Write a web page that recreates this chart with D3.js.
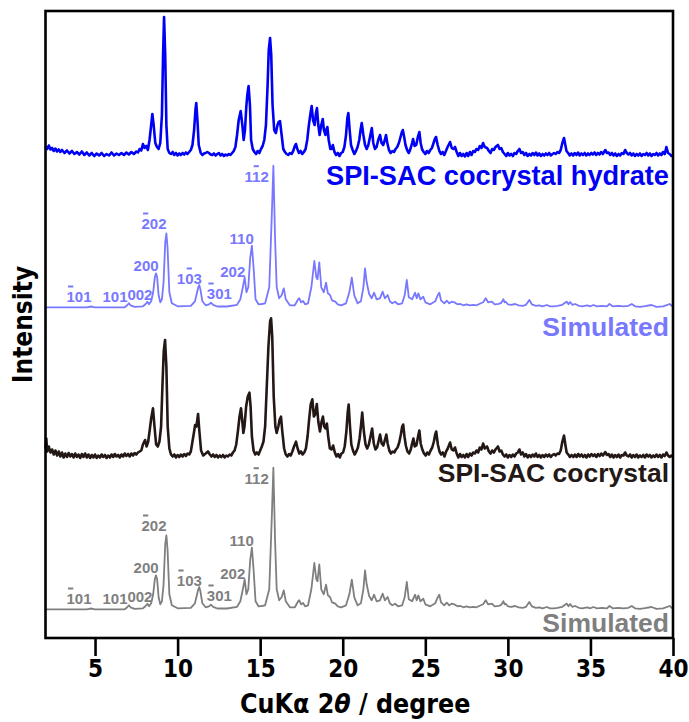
<!DOCTYPE html>
<html>
<head>
<meta charset="utf-8">
<script src="https://cdn.jsdelivr.net/npm/d3@7/dist/d3.min.js"></script>
<style>
  html, body { margin: 0; padding: 0; background: #fff; }
  svg { display: block; }
  .narrow { font-family: 'DejaVu Sans Condensed', 'Liberation Sans Narrow', sans-serif; font-weight: bold; }
  .bold { font-family: 'Liberation Sans', Arial, sans-serif; font-weight: bold; }
</style>
</head>
<body>
<svg id="chart" width="689" height="722"></svg>
<script>
// ---------------- data ----------------
const seriesNames = ["SPI-SAC cocrystal hydrate", "Simulated", "SPI-SAC cocrystal", "Simulated"];
const xTicks = [5, 10, 15, 20, 25, 30, 35, 40];
const xTickLabels = ["5", "10", "15", "20", "25", "30", "35", "40"];
const xRange = [2, 40];
// vertical offsets of each pattern (a.u.)
const offsets = [4830, 3307, 1815, 287];

// experimental pattern, SPI-SAC cocrystal hydrate  [2theta, intensity]
const hydrateExp = [
[2.0,80],[2.1,60],[2.2,95],[2.3,55],[2.4,70],[2.5,40],[2.6,65],[2.7,35],[2.8,55],[2.9,30],[3.0,50],[3.15,20],[3.3,45],[3.45,15],[3.6,40],[3.75,10],[3.9,30],[4.05,5],[4.2,35],[4.35,0],[4.5,25],[4.65,-5],[4.8,20],[4.95,-10],[5.1,15],[5.25,-5],[5.4,20],[5.55,-10],[5.7,10],[5.85,-5],[6.0,25],[6.15,-5],[6.3,15],[6.45,0],[6.6,20],[6.75,0],[6.9,25],[7.05,5],[7.2,30],[7.35,10],[7.5,35],[7.6,25],[7.7,60],[7.8,45],[7.9,110],[8.0,70],[8.1,90],[8.2,50],[8.3,150],[8.4,300],[8.47,410],[8.55,300],[8.65,120],[8.75,80],[8.85,60],[8.95,120],[9.05,400],[9.12,1000],[9.18,1380],[9.25,1000],[9.32,300],[9.4,60],[9.5,20],[9.6,10],[9.7,30],[9.8,0],[9.9,20],[10.0,-5],[10.1,15],[10.2,0],[10.3,20],[10.4,5],[10.5,25],[10.6,10],[10.7,30],[10.8,50],[10.9,100],[11.0,250],[11.08,450],[11.13,520],[11.2,350],[11.28,100],[11.4,20],[11.5,0],[11.6,15],[11.7,20],[11.8,30],[11.9,20],[12.0,5],[12.1,0],[12.2,15],[12.3,-5],[12.4,10],[12.5,20],[12.6,-5],[12.7,10],[12.8,-10],[12.9,5],[13.0,-5],[13.1,10],[13.2,0],[13.3,20],[13.4,40],[13.5,80],[13.6,200],[13.7,350],[13.82,440],[13.92,300],[14.0,150],[14.08,250],[14.16,480],[14.22,600],[14.3,690],[14.38,500],[14.45,150],[14.55,60],[14.65,30],[14.75,10],[14.85,40],[14.95,20],[15.05,60],[15.15,90],[15.25,150],[15.35,300],[15.45,700],[15.52,1050],[15.6,1170],[15.67,1000],[15.75,500],[15.85,250],[15.95,220],[16.05,300],[16.12,330],[16.2,340],[16.3,200],[16.4,60],[16.5,30],[16.6,10],[16.7,0],[16.8,20],[16.9,10],[17.0,40],[17.1,90],[17.17,110],[17.25,60],[17.35,20],[17.45,40],[17.55,10],[17.65,30],[17.75,60],[17.85,150],[17.95,300],[18.05,420],[18.12,490],[18.2,350],[18.3,300],[18.38,420],[18.44,470],[18.52,300],[18.6,200],[18.7,300],[18.79,360],[18.86,250],[18.95,200],[19.0,250],[19.07,280],[19.15,150],[19.25,60],[19.33,60],[19.4,100],[19.5,30],[19.6,0],[19.7,20],[19.8,-10],[19.9,20],[20.0,30],[20.1,80],[20.2,200],[20.28,370],[20.34,420],[20.42,250],[20.5,100],[20.6,50],[20.7,10],[20.8,40],[20.9,80],[21.0,150],[21.08,250],[21.15,320],[21.25,200],[21.35,100],[21.45,60],[21.55,100],[21.65,180],[21.76,270],[21.85,120],[21.95,60],[22.05,80],[22.15,150],[22.26,200],[22.35,120],[22.45,100],[22.55,150],[22.62,200],[22.7,120],[22.8,50],[22.9,20],[23.0,40],[23.1,30],[23.2,60],[23.3,80],[23.4,120],[23.5,180],[23.58,230],[23.64,250],[23.72,180],[23.8,100],[23.9,50],[24.0,20],[24.1,60],[24.2,120],[24.26,160],[24.35,90],[24.45,100],[24.55,180],[24.64,230],[24.72,120],[24.8,60],[24.9,30],[25.0,10],[25.1,40],[25.2,20],[25.3,50],[25.4,70],[25.5,120],[25.58,160],[25.65,180],[25.75,100],[25.85,40],[25.95,10],[26.05,30],[26.15,0],[26.25,40],[26.35,80],[26.5,130],[26.6,70],[26.7,60],[26.8,80],[26.9,30],[27.0,-10],[27.1,20],[27.2,-10],[27.3,10],[27.4,-15],[27.5,20],[27.6,-10],[27.7,30],[27.8,0],[27.9,40],[28.0,30],[28.1,60],[28.2,50],[28.3,90],[28.4,70],[28.5,120],[28.6,80],[28.74,70],[28.85,40],[28.95,20],[29.05,60],[29.15,50],[29.25,80],[29.4,100],[29.5,60],[29.6,70],[29.7,30],[29.8,10],[29.9,-10],[30.0,20],[30.1,-5],[30.2,10],[30.3,-10],[30.4,20],[30.5,10],[30.6,40],[30.7,60],[30.8,20],[30.9,30],[31.0,0],[31.1,20],[31.2,-10],[31.3,10],[31.4,-5],[31.5,20],[31.6,0],[31.7,25],[31.8,-5],[31.9,15],[32.0,-10],[32.1,10],[32.2,-5],[32.3,15],[32.4,0],[32.5,20],[32.6,-5],[32.7,10],[32.8,20],[32.9,10],[33.0,30],[33.1,20],[33.2,50],[33.3,120],[33.4,170],[33.48,100],[33.55,40],[33.65,20],[33.75,-5],[33.85,15],[33.95,-5],[34.05,20],[34.15,0],[34.25,25],[34.35,-5],[34.45,15],[34.55,0],[34.65,20],[34.75,-5],[34.85,15],[34.95,0],[35.05,20],[35.15,5],[35.25,25],[35.35,0],[35.45,20],[35.55,5],[35.65,30],[35.75,10],[35.9,50],[36.0,20],[36.1,25],[36.2,0],[36.3,20],[36.4,-5],[36.5,15],[36.6,-10],[36.7,10],[36.8,-5],[36.9,20],[37.0,10],[37.1,50],[37.2,20],[37.3,5],[37.4,20],[37.5,-5],[37.6,15],[37.7,-10],[37.8,10],[37.9,-5],[38.0,15],[38.1,-10],[38.2,10],[38.3,0],[38.4,20],[38.5,-5],[38.6,15],[38.7,-10],[38.8,10],[38.9,0],[39.0,20],[39.1,-5],[39.2,15],[39.3,0],[39.4,30],[39.5,10],[39.6,80],[39.7,20],[39.8,10],[39.9,-10],[40.0,0]
];

// simulated pattern (same for both simulated traces)  [2theta, intensity]
const simulated = [
[2.0,0],[4.5,0],[4.65,5],[4.75,8],[4.85,5],[5.0,0],[6.8,0],[6.95,20],[7.05,40],[7.15,20],[7.4,5],[7.9,10],[8.05,30],[8.17,55],[8.27,30],[8.4,60],[8.52,150],[8.62,300],[8.69,340],[8.76,300],[8.85,120],[8.95,50],[9.05,80],[9.15,250],[9.25,650],[9.32,740],[9.39,600],[9.5,150],[9.65,40],[10.0,10],[10.8,15],[11.05,60],[11.18,150],[11.25,200],[11.31,223],[11.38,180],[11.5,60],[11.7,20],[11.9,30],[12.02,46],[12.15,25],[12.4,8],[13.0,8],[13.6,25],[13.8,80],[13.95,200],[14.06,300],[14.17,150],[14.28,200],[14.4,500],[14.5,616],[14.6,400],[14.72,80],[14.9,30],[15.1,33],[15.3,40],[15.55,200],[15.7,900],[15.8,1416],[15.9,700],[16.0,200],[16.04,173],[16.15,90],[16.3,120],[16.43,190],[16.55,80],[16.8,20],[17.1,20],[17.3,80],[17.37,90],[17.48,50],[17.6,63],[17.72,30],[17.9,40],[18.1,200],[18.28,463],[18.4,300],[18.47,280],[18.58,450],[18.7,200],[18.85,150],[18.99,246],[19.1,140],[19.23,123],[19.35,70],[19.55,56],[19.7,30],[19.9,20],[20.2,40],[20.4,150],[20.55,296],[20.7,120],[20.9,40],[21.1,60],[21.25,200],[21.35,390],[21.45,250],[21.6,133],[21.75,90],[21.9,146],[22.05,80],[22.25,90],[22.42,156],[22.55,90],[22.72,123],[22.85,60],[23.0,40],[23.17,56],[23.35,30],[23.6,40],[23.75,120],[23.88,273],[24.0,100],[24.2,80],[24.38,146],[24.48,90],[24.58,140],[24.7,80],[24.88,106],[25.0,50],[25.3,30],[25.6,60],[25.75,120],[25.85,146],[25.95,70],[26.15,40],[26.3,66],[26.45,40],[26.6,56],[26.8,46],[26.95,30],[27.1,35],[27.3,20],[27.5,30],[27.7,20],[27.9,25],[28.1,20],[28.3,35],[28.5,50],[28.66,90],[28.8,50],[29.03,56],[29.2,30],[29.45,35],[29.6,45],[29.73,80],[29.8,50],[29.87,56],[30.0,30],[30.2,25],[30.44,33],[30.65,20],[30.9,15],[31.1,25],[31.3,73],[31.45,30],[31.7,15],[31.9,20],[32.1,10],[32.36,23],[32.55,10],[32.8,10],[33.0,15],[33.3,25],[33.5,50],[33.57,56],[33.67,30],[33.77,53],[33.9,25],[34.07,33],[34.3,15],[34.5,10],[34.8,20],[35.0,10],[35.18,23],[35.4,10],[35.7,15],[36.0,10],[36.15,33],[36.35,10],[36.7,15],[37.0,10],[37.3,15],[37.5,33],[37.7,10],[38.0,5],[38.3,12],[38.7,23],[39.0,5],[39.4,10],[39.8,33],[40.0,6]
];

// experimental pattern, SPI-SAC cocrystal  [2theta, intensity]
const cocrystalExp = [
[2.0,80],[2.05,180],[2.1,50],[2.2,100],[2.3,40],[2.4,70],[2.5,20],[2.6,60],[2.7,10],[2.8,50],[2.9,0],[3.0,40],[3.1,-10],[3.2,30],[3.3,-5],[3.4,35],[3.5,0],[3.6,25],[3.7,-10],[3.8,30],[3.9,-5],[4.0,20],[4.1,-15],[4.2,25],[4.3,-5],[4.4,30],[4.5,-10],[4.6,20],[4.7,-15],[4.8,15],[4.9,-10],[5.0,20],[5.1,-15],[5.2,10],[5.3,-10],[5.4,20],[5.5,-5],[5.6,15],[5.7,-15],[5.8,10],[5.9,-10],[6.0,20],[6.1,-5],[6.2,25],[6.3,0],[6.4,15],[6.5,-10],[6.6,20],[6.7,0],[6.8,30],[6.9,5],[7.0,25],[7.1,0],[7.2,30],[7.3,10],[7.4,35],[7.5,20],[7.6,40],[7.7,50],[7.8,60],[7.9,120],[8.03,165],[8.12,100],[8.22,150],[8.3,250],[8.4,380],[8.51,482],[8.6,300],[8.7,120],[8.8,100],[8.9,150],[9.0,300],[9.08,700],[9.16,1050],[9.24,1165],[9.32,900],[9.4,300],[9.5,80],[9.6,20],[9.7,0],[9.8,20],[9.9,-10],[10.0,15],[10.1,-5],[10.2,20],[10.3,0],[10.4,25],[10.5,5],[10.6,30],[10.7,20],[10.8,50],[10.9,150],[11.0,250],[11.06,315],[11.14,300],[11.24,425],[11.32,250],[11.42,60],[11.55,10],[11.7,30],[11.84,50],[11.95,20],[12.05,0],[12.15,20],[12.25,-5],[12.35,15],[12.45,-10],[12.55,10],[12.65,-5],[12.75,15],[12.85,-10],[12.95,10],[13.05,0],[13.15,20],[13.25,10],[13.35,40],[13.45,60],[13.55,120],[13.65,250],[13.75,400],[13.84,482],[13.92,350],[13.98,235],[14.05,300],[14.15,500],[14.25,600],[14.35,638],[14.42,500],[14.5,200],[14.6,60],[14.7,20],[14.8,40],[14.9,20],[15.0,60],[15.1,100],[15.2,150],[15.3,300],[15.4,700],[15.5,1100],[15.6,1350],[15.66,1382],[15.73,1200],[15.82,600],[15.92,300],[16.0,235],[16.1,300],[16.18,370],[16.26,398],[16.34,250],[16.45,80],[16.55,20],[16.65,0],[16.75,25],[16.85,10],[16.95,50],[17.05,100],[17.17,148],[17.27,80],[17.37,30],[17.47,50],[17.57,20],[17.67,40],[17.77,80],[17.87,200],[17.97,380],[18.06,520],[18.16,572],[18.25,400],[18.33,420],[18.43,525],[18.52,350],[18.62,250],[18.72,350],[18.8,400],[18.88,300],[18.96,280],[19.04,330],[19.12,200],[19.22,80],[19.32,70],[19.42,110],[19.52,40],[19.62,0],[19.72,25],[19.82,-10],[19.92,30],[20.02,40],[20.12,100],[20.22,250],[20.3,440],[20.36,520],[20.44,300],[20.52,120],[20.62,60],[20.72,20],[20.82,50],[20.92,90],[21.02,180],[21.1,300],[21.18,440],[21.28,250],[21.38,120],[21.48,80],[21.58,120],[21.68,200],[21.78,280],[21.88,130],[21.98,70],[22.08,90],[22.18,160],[22.26,220],[22.36,130],[22.46,110],[22.56,170],[22.64,220],[22.72,130],[22.82,60],[22.92,30],[23.02,50],[23.12,40],[23.22,70],[23.32,90],[23.42,140],[23.52,220],[23.6,300],[23.66,320],[23.74,200],[23.82,110],[23.92,50],[24.02,30],[24.12,70],[24.2,130],[24.28,180],[24.36,100],[24.46,110],[24.56,200],[24.64,260],[24.72,130],[24.82,70],[24.92,30],[25.02,10],[25.12,40],[25.22,20],[25.32,60],[25.42,90],[25.52,150],[25.6,220],[25.66,250],[25.76,120],[25.86,50],[25.96,20],[26.06,40],[26.16,0],[26.26,50],[26.36,80],[26.5,140],[26.6,70],[26.7,60],[26.8,90],[26.9,30],[27.0,-10],[27.1,25],[27.2,-5],[27.3,15],[27.4,-10],[27.5,25],[27.6,-5],[27.7,30],[27.8,10],[27.9,40],[28.0,30],[28.1,60],[28.2,40],[28.3,90],[28.4,70],[28.5,130],[28.6,80],[28.74,100],[28.85,50],[28.95,30],[29.05,60],[29.15,40],[29.25,70],[29.4,100],[29.5,50],[29.6,60],[29.7,20],[29.8,0],[29.9,20],[30.0,-10],[30.1,15],[30.2,-5],[30.3,20],[30.4,0],[30.5,30],[30.6,40],[30.7,70],[30.8,20],[30.9,40],[31.0,0],[31.1,25],[31.2,-10],[31.3,15],[31.4,-5],[31.5,20],[31.6,0],[31.7,30],[31.8,-5],[31.9,15],[32.0,-10],[32.1,15],[32.2,-5],[32.3,20],[32.4,0],[32.5,20],[32.6,-5],[32.7,15],[32.8,25],[32.9,10],[33.0,30],[33.1,25],[33.2,60],[33.3,150],[33.4,210],[33.48,120],[33.56,40],[33.66,20],[33.76,-5],[33.86,15],[33.96,-5],[34.06,20],[34.16,-5],[34.26,25],[34.36,0],[34.46,20],[34.56,-5],[34.66,15],[34.76,-10],[34.86,20],[34.96,0],[35.06,25],[35.16,5],[35.26,20],[35.36,-5],[35.46,25],[35.56,5],[35.66,30],[35.76,10],[35.9,45],[36.0,15],[36.1,25],[36.2,-5],[36.3,20],[36.4,-10],[36.5,15],[36.6,-5],[36.7,20],[36.8,-10],[36.9,15],[37.0,10],[37.1,40],[37.2,10],[37.3,0],[37.4,20],[37.5,-10],[37.6,15],[37.7,-5],[37.8,20],[37.9,-10],[38.0,10],[38.1,-5],[38.2,15],[38.3,-10],[38.4,20],[38.5,0],[38.6,15],[38.7,-10],[38.8,10],[38.9,-5],[39.0,20],[39.1,-5],[39.2,15],[39.3,-10],[39.4,20],[39.5,5],[39.6,40],[39.7,10],[39.8,-5],[39.9,10],[40.0,-5]
];

// Miller index labels: [digits, index of barred digit (-1 none), 2theta, intensity]
const peakLabelsHydrate = [
["101",0,4.03,53],["101",-1,6.21,53],["002",-1,7.72,78],["200",-1,8.09,363],["202",0,8.57,783],
["103",1,10.71,233],["301",0,12.53,83],["202",-1,13.34,306],["110",-1,13.88,630],["112",1,14.79,1256]
];
const peakLabelsCocrystal = [
["101",0,4.03,53],["101",-1,6.21,53],["002",-1,7.72,78],["200",-1,8.09,363],["202",0,8.57,783],
["103",0,10.71,233],["301",0,12.53,83],["202",-1,13.34,306],["110",-1,13.88,630],["112",1,14.79,1256]
];

// ---------------- drawing ----------------
const colors = ["#0000f5", "#7878ff", "#231815", "#7f7f7f"];
const svg = d3.select("#chart");
const W = 689, H = 722;
const m = {left: 45.5, right: 16, top: 11, bottom: 84};
const x = d3.scaleLinear().domain(xRange).range([m.left, W - m.right]);
const y = d3.scaleLinear().domain([0, 6270]).range([H - m.bottom, m.top]);

const traces = [
  {data: hydrateExp, off: offsets[0], color: colors[0], w: 2.6},
  {data: simulated, off: offsets[1], color: colors[1], w: 1.8},
  {data: cocrystalExp, off: offsets[2], color: colors[2], w: 2.6},
  {data: simulated, off: offsets[3], color: colors[3], w: 1.8}
];

traces.forEach(t => {
  const line = d3.line().x(d => x(d[0])).y(d => y(d[1] + t.off));
  svg.append("path").datum(t.data).attr("d", line)
    .attr("fill", "none").attr("stroke", t.color).attr("stroke-width", t.w)
    .attr("stroke-linejoin", "round");
});

// peak labels
function drawLabels(list, off, color) {
  list.forEach(l => {
    const tx = svg.append("text").attr("class", "bold")
      .attr("x", x(l[2])).attr("y", y(l[3] + off))
      .attr("text-anchor", "middle").attr("font-size", 15)
      .attr("fill", color).text(l[0]);
    if (l[1] >= 0) {
      const ext = tx.node().getExtentOfChar(l[1]);
      const cx = ext.x + ext.width / 2;
      const by = y(l[3] + off) - 15.5;
      svg.append("line").attr("x1", cx - 2.6).attr("x2", cx + 2.6)
        .attr("y1", by).attr("y2", by).attr("stroke", color).attr("stroke-width", 2);
    }
  });
}
drawLabels(peakLabelsHydrate, offsets[1], colors[1]);
drawLabels(peakLabelsCocrystal, offsets[3], colors[3]);

// series names
const nameDy = [30, 29, 25.5, 23];
const nameSize = [27.2, 26.5, 26.5, 26.5];
seriesNames.forEach((n, i) => {
  svg.append("text").attr("class", "bold")
    .attr("x", W - m.right - 4).attr("y", y(offsets[i]) + nameDy[i])
    .attr("text-anchor", "end").attr("font-size", nameSize[i])
    .attr("fill", colors[i]).text(n);
});

// frame
svg.append("rect").attr("x", m.left).attr("y", m.top)
  .attr("width", W - m.right - m.left).attr("height", H - m.bottom - m.top)
  .attr("fill", "none").attr("stroke", "#000").attr("stroke-width", 2.6);

// x axis
const xAxis = d3.axisBottom(x).tickValues(xTicks)
  .tickFormat((d, i) => xTickLabels[i]).tickSize(18).tickPadding(4);
const gx = svg.append("g").attr("transform", `translate(0,${H - m.bottom})`).call(xAxis);
gx.select(".domain").remove();
gx.selectAll(".tick line").attr("stroke", "#000").attr("stroke-width", 2.6);
gx.selectAll(".tick text").attr("class", "narrow").attr("font-size", 24).attr("fill", "#000");

// axis titles
const xt = svg.append("text").attr("class", "narrow").attr("font-size", 26.5)
  .attr("x", (m.left + W - m.right) / 2 - 4).attr("y", 713).attr("text-anchor", "middle");
xt.append("tspan").text("CuKα 2");
xt.append("tspan").attr("font-style", "italic").text("θ");
xt.append("tspan").text(" / degree");

svg.append("text").attr("class", "narrow").attr("font-size", 26)
  .attr("transform", `translate(32,${(m.top + H - m.bottom) / 2}) rotate(-90)`)
  .attr("text-anchor", "middle").text("Intensity");
</script>
</body>
</html>
